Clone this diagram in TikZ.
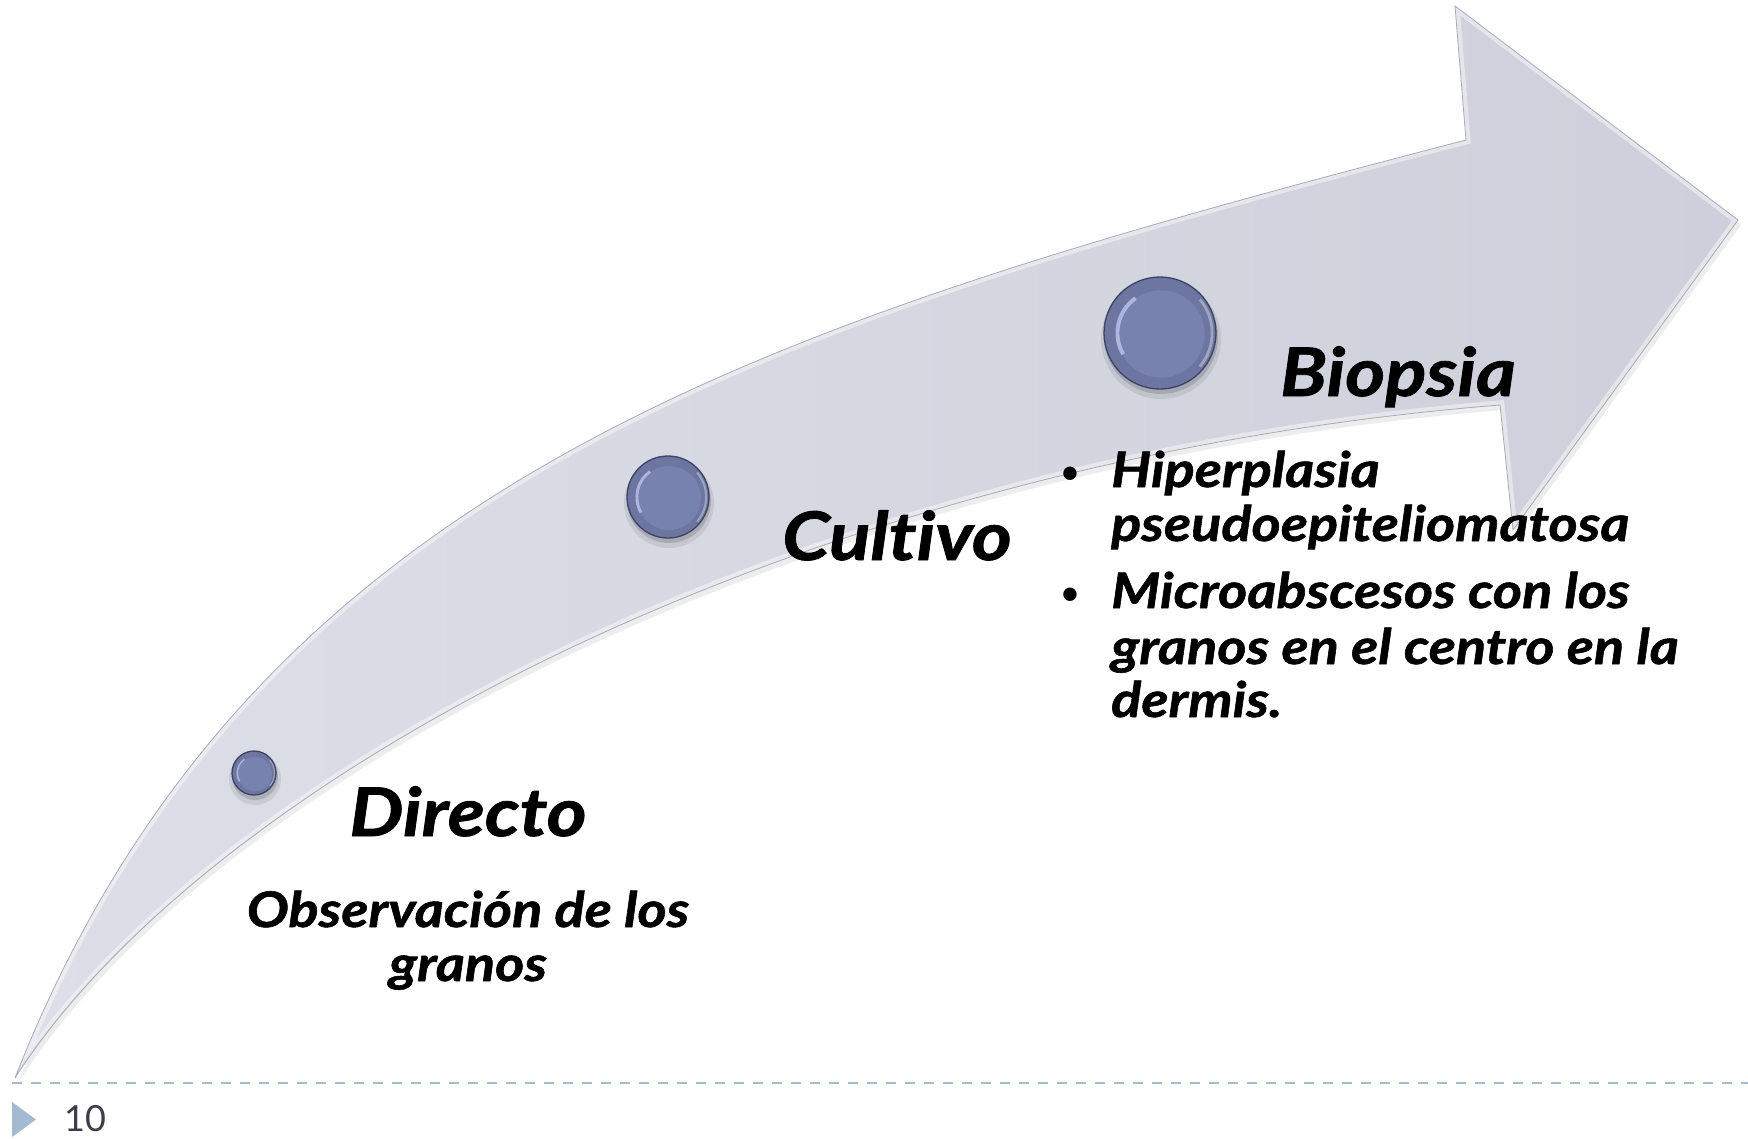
\documentclass[tikz,border=0pt]{standalone}
\usepackage{fontspec}
\setmainfont{Lato}
\newfontfamily\gillbi{Lato}[FakeStretch=1.14, FakeBold=1.2, Ligatures=NoCommon]
\definecolor{arrowA}{HTML}{DDDFE8}
\definecolor{arrowB}{HTML}{CDD0DA}
\definecolor{arrowEdge}{HTML}{A8ACB8}
\definecolor{dotFill}{HTML}{6C76A0}
\definecolor{dotInner}{HTML}{7882AE}
\definecolor{dotRim}{HTML}{3C4364}
\definecolor{dotHi}{HTML}{B6C0EA}
\definecolor{dashcol}{HTML}{A3BAD1}
\definecolor{numcol}{HTML}{3D3D4A}
\newcommand{\myArrowPath}{(15,1078) .. controls (250,480) and (766,322) .. (1466,140) -- (1455,6) -- (1738,220) -- (1513,530) -- (1500,405) .. controls (800,461) and (209,776) .. (15,1078) -- cycle}
\newcommand{\titlefont}{\gillbi\fontsize{67}{70}\selectfont\bfseries\itshape}
\newcommand{\bodyfont}{\gillbi\fontsize{49}{54}\selectfont\bfseries\itshape}
\newcommand{\gemdot}[4]{%
  \fill[black, opacity=0.08] (#2+1,#3+6) circle [radius=#4+4];
  \fill[black, opacity=0.14] (#2+1,#3+4) circle [radius=#4+1];
  \node[circle, inner sep=0pt, minimum size={2*#4}, fill=dotFill, draw=dotRim, line width=1.3pt] (#1) at (#2,#3) {};
  \fill[dotInner] (#2+1,#3+1) circle [radius=0.78*#4];
  \draw[dotHi, line width={0.07*#4}, opacity=0.85] (#2,#3) ++(150:0.76*#4) arc [start angle=150, end angle=235, radius=0.76*#4];
  \draw[white, line width={0.05*#4}, opacity=0.35] (#2,#3) ++(-40:0.93*#4) arc [start angle=-40, end angle=40, radius=0.93*#4];
}
\tikzset{
  title/.style={anchor=base, font=\titlefont, text=black, inner sep=0pt},
  body/.style={anchor=base, font=\bodyfont, text=black, inner sep=0pt},
  bodyl/.style={anchor=base west, font=\bodyfont, text=black, inner sep=0pt},
  bul/.style={anchor=base, font=\fontsize{36}{40}\selectfont, text=black, inner sep=0pt},
}
\begin{document}
\begin{tikzpicture}[x=1pt, y=-1pt]
\useasboundingbox (0,0) rectangle (1748,1138);
\fill[white] (0,0) rectangle (1748,1138);
% arrow shadow
\fill[black, opacity=0.07, shift={(3,5)}] \myArrowPath;
% arrow body
\shade[left color=arrowA, right color=arrowB] \myArrowPath;
\begin{scope}
  \clip \myArrowPath;
  \draw[white, opacity=0.45, line width=9pt] \myArrowPath;
  \draw[arrowEdge, opacity=0.25, line width=3pt, shift={(-2,3)}] (1500,405) .. controls (800,461) and (209,776) .. (15,1078);
\end{scope}
\draw[arrowEdge, line width=0.8pt] \myArrowPath;

% dots
\gemdot{dA}{254}{773}{22}
\gemdot{dB}{668}{497}{41}
\gemdot{dC}{1160}{333}{56}

% titles
\node[title] (directo) at (468,836) {Directo};
\node[title] (cultivo) at (897,560) {Cultivo};
\node[title] (biopsia) at (1398,396) {Biopsia};

% Directo text
\node[body] (obs1) at (468,927) {Observación de los};
\node[body] (obs2) at (468,981) {granos};

% Biopsia bullets
\node[bul] (b1) at (1070,484) {•};
\node[bodyl] (l1) at (1111,487) {Hiperplasia};
\node[bodyl] (l2) at (1111,541) {pseudoepiteliomatosa};
\node[bul] (b2) at (1070,605) {•};
\node[bodyl] (l3) at (1111,608) {Microabscesos con los};
\node[bodyl] (l4) at (1111,664) {granos en el centro en la};
\node[bodyl] (l5) at (1111,717) {dermis.};

% footer
\draw[dashcol, line width=2pt, dash pattern=on 10pt off 9pt] (12,1083) -- (1748,1083);
\fill[dashcol] (12,1102) -- (36,1119.5) -- (12,1137) -- cycle;
\node[anchor=base west, font=\fontsize{36}{40}\selectfont, text=numcol, inner sep=0pt] (pnum) at (64,1131) {10};
\end{tikzpicture}
\end{document}
